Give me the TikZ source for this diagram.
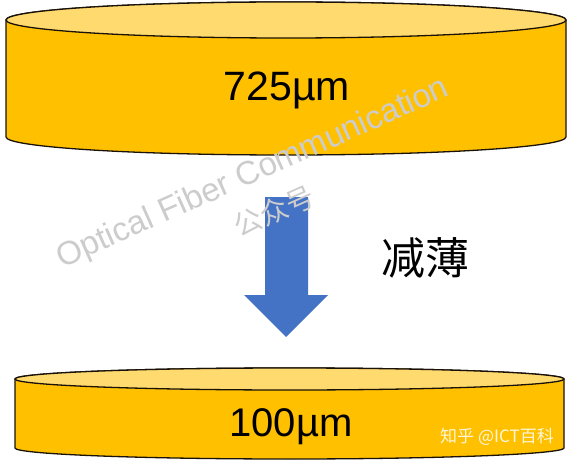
\documentclass[tikz,border=0pt]{standalone}
\usepackage{fontspec}
\setmainfont{Liberation Sans}
\newfontfamily\cjkfont{Noto Sans CJK SC}
\definecolor{waferside}{HTML}{FFC000}
\definecolor{wafertop}{HTML}{FFDA6E}
\definecolor{arrowblue}{HTML}{4472C4}
\definecolor{edgeline}{HTML}{1A1208}

\begin{document}
\begin{tikzpicture}[x=1pt,y=1pt,
    wafer/.style={draw=edgeline, line width=1.3pt, fill=waferside},
    waferface/.style={draw=edgeline, line width=1.3pt, fill=wafertop}]
    \useasboundingbox (0,0) rectangle (568,-460);

    % Thick wafer (725 um)
    \draw[wafer] (6,-20) -- (6,-137) arc[start angle=180,end angle=360,x radius=280,y radius=18]
        -- (566,-20) arc[start angle=0,end angle=180,x radius=280,y radius=18] -- cycle;
    \draw[waferface] (286,-20) ellipse[x radius=280,y radius=18];
    \node (thick) at (287,-90) {\fontsize{41}{41}\selectfont 725\textmu m};

    % Thinning arrow
    \fill[arrowblue] (265,-197) -- (308,-197) -- (308,-295) -- (328,-295)
        -- (286,-337) -- (244,-295) -- (265,-295) -- cycle;
    \node (thin) at (425,-258) {\cjkfont\fontsize{44}{44}\selectfont 减薄};

    % Watermark
    \node[text=gray!40, rotate=24] (wmark) at (253,-174)
        {\fontsize{33}{33}\selectfont Optical Fiber Communication};
    \node[text=gray!40, rotate=24] (wmarkcn) at (274,-211)
        {\cjkfont\fontsize{28}{28}\selectfont 公众号};

    % Thin wafer (100 um)
    \draw[wafer] (15,-379) -- (15,-448) arc[start angle=180,end angle=360,x radius=274.5,y radius=11]
        -- (564,-379) arc[start angle=0,end angle=180,x radius=274.5,y radius=11] -- cycle;
    \draw[waferface] (289.5,-379) ellipse[x radius=274.5,y radius=11];
    \node (thinwafer) at (291,-427) {\fontsize{40}{40}\selectfont 100\textmu m};

    % Source tag
    \node[text=white!85!waferside] (source) at (497,-437) {\cjkfont\fontsize{17}{17}\selectfont 知乎 @ICT百科};
\end{tikzpicture}
\end{document}
